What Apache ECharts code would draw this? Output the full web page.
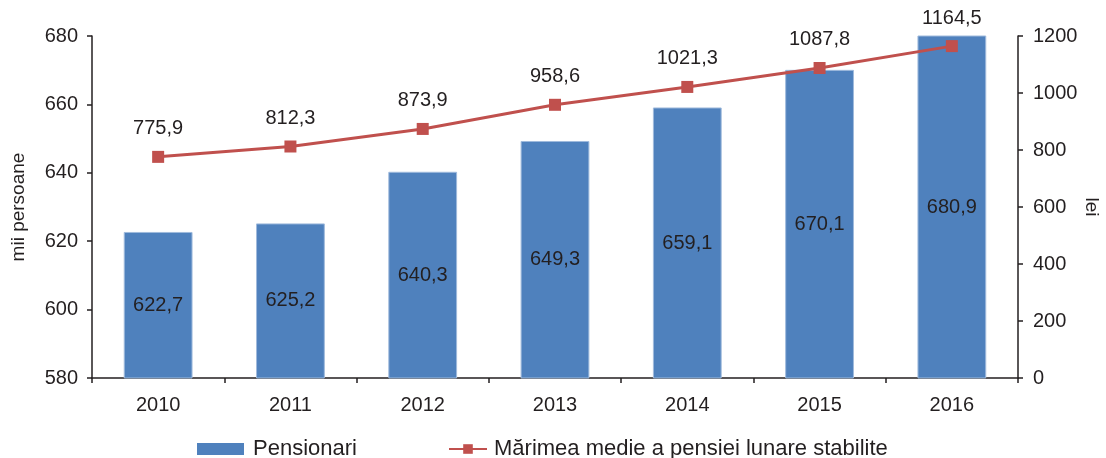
<!DOCTYPE html>
<html>
<head>
<meta charset="utf-8">
<script src="https://cdn.jsdelivr.net/npm/echarts@6/dist/echarts.min.js"></script>
<style>
  html, body { margin: 0; padding: 0; background: #fff; }
  #chart { width: 1106px; height: 458px; }
</style>
</head>
<body>
<div id="chart"></div>
<script>
const years = ['2010', '2011', '2012', '2013', '2014', '2015', '2016'];
const pensionari = [622.7, 625.2, 640.3, 649.3, 659.1, 670.1, 680.9];
const pensieMedie = [775.9, 812.3, 873.9, 958.6, 1021.3, 1087.8, 1164.5];

const TEXT = '#231f20';
const AXIS = '#231f20';
const FONT = 'Liberation Sans, Arial, sans-serif';

const fmt = (v) => Number(v).toFixed(1).replace('.', ',');

const chart = echarts.init(document.getElementById('chart'));

chart.setOption({
  backgroundColor: '#fff',
  animation: false,
  textStyle: { fontFamily: FONT, color: TEXT },
  grid: { left: 92, right: 88, top: 36, bottom: 80, containLabel: false, outerBoundsMode: 'none' },
  legend: [
    {
      left: 192,
      top: 433,
      itemWidth: 47,
      itemHeight: 12,
      textStyle: { fontSize: 22, color: TEXT, fontFamily: FONT, padding: [0, 0, 0, 4] },
      data: [{ name: 'Pensionari', icon: 'rect', itemStyle: { borderWidth: 0 } }],
    },
    {
      left: 443,
      top: 433,
      itemWidth: 38,
      itemHeight: 12,
      textStyle: { fontSize: 22, color: TEXT, fontFamily: FONT, padding: [0, 0, 0, 2] },
      data: ['Mărimea medie a pensiei lunare stabilite'],
    },
  ],
  xAxis: {
    type: 'category',
    data: years,
    boundaryGap: true,
    axisLine: { lineStyle: { color: AXIS, width: 1.5 } },
    axisTick: { show: true, length: 5, inside: false, lineStyle: { color: AXIS, width: 1.5 } },
    axisLabel: { color: TEXT, fontSize: 20, margin: 17, fontFamily: FONT },
  },
  yAxis: [
    {
      type: 'value',
      min: 580,
      max: 680,
      interval: 20,
      name: 'mii persoane',
      nameLocation: 'middle',
      nameRotate: 90,
      nameGap: 64,
      nameMoveOverlap: false,
      nameTextStyle: { fontSize: 19, color: TEXT, fontFamily: FONT },
      axisLine: { show: true, lineStyle: { color: AXIS, width: 1.5 } },
      axisTick: { show: true, length: 5, lineStyle: { color: AXIS, width: 1.5 } },
      axisLabel: { color: TEXT, fontSize: 20, margin: 14, fontFamily: FONT },
      splitLine: { show: false },
    },
    {
      type: 'value',
      min: 0,
      max: 1200,
      interval: 200,
      position: 'right',
      name: 'lei',
      nameLocation: 'middle',
      nameRotate: -90,
      nameGap: 64,
      nameMoveOverlap: false,
      nameTextStyle: { fontSize: 19, color: TEXT, fontFamily: FONT },
      axisLine: { show: true, lineStyle: { color: AXIS, width: 1.5 } },
      axisTick: { show: true, length: 5, lineStyle: { color: AXIS, width: 1.5 } },
      axisLabel: { color: TEXT, fontSize: 20, margin: 15, fontFamily: FONT, formatter: (v) => String(v) },
      splitLine: { show: false },
    },
  ],
  series: [
    {
      name: 'Pensionari',
      type: 'bar',
      yAxisIndex: 0,
      data: pensionari,
      barWidth: '52%',
      clip: true,
      itemStyle: { color: '#4f81bd', borderColor: '#9fbadc', borderWidth: 1 },
      label: {
        show: true,
        position: 'inside',
        color: TEXT,
        fontSize: 20,
        fontFamily: FONT,
        formatter: (p) => fmt(p.value),
      },
    },
    {
      name: 'Mărimea medie a pensiei lunare stabilite',
      type: 'line',
      yAxisIndex: 1,
      data: pensieMedie,
      symbol: 'rect',
      symbolSize: 12,
      lineStyle: { color: '#c0504d', width: 3 },
      itemStyle: { color: '#c0504d' },
      label: {
        show: true,
        position: 'top',
        distance: 12,
        color: TEXT,
        fontSize: 20,
        fontFamily: FONT,
        formatter: (p) => fmt(p.value),
      },
      z: 5,
    },
  ],
});
</script>
</body>
</html>
